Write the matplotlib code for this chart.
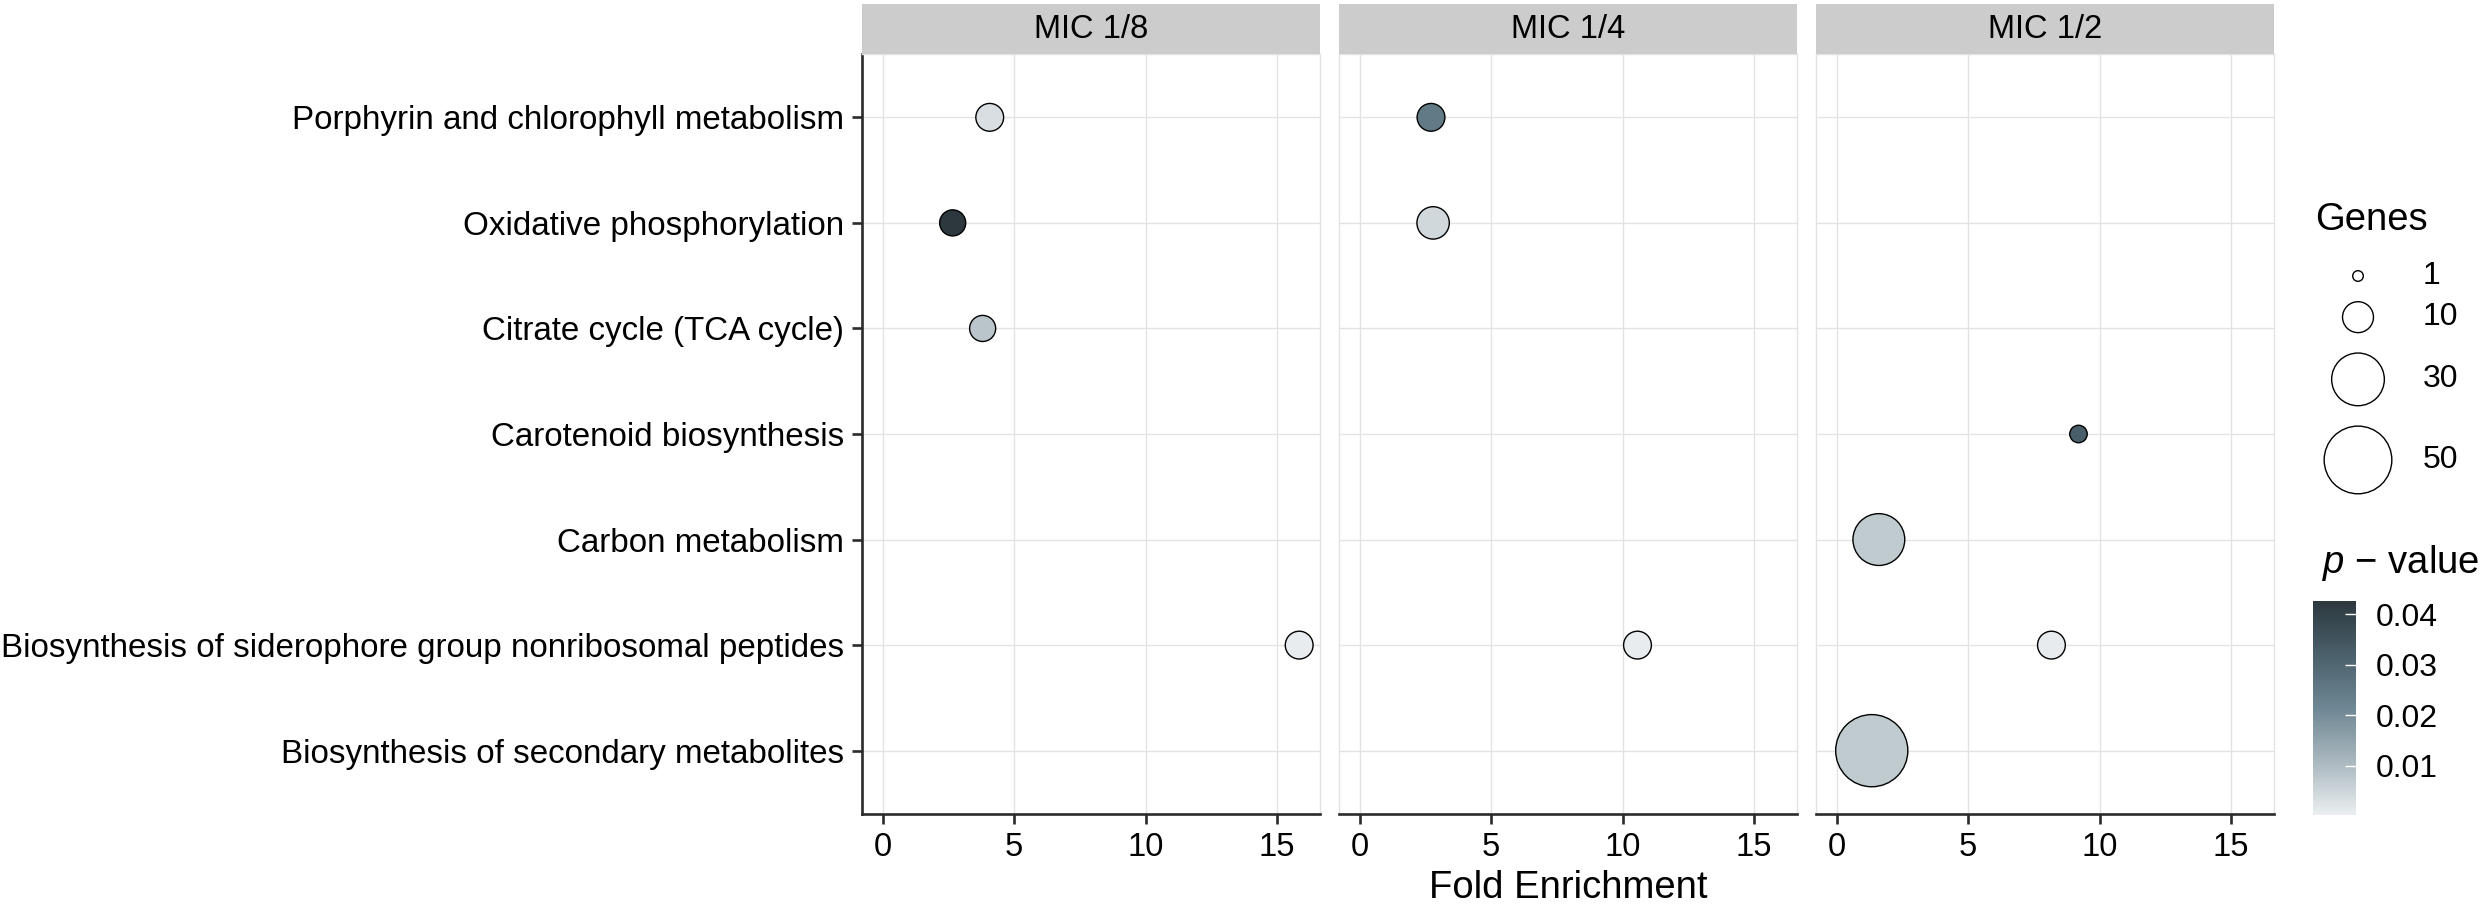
import numpy as np
import matplotlib
matplotlib.use("Agg")
import matplotlib.pyplot as plt
from matplotlib.colors import LinearSegmentedColormap, Normalize
from matplotlib.cm import ScalarMappable

plt.rcParams['font.family'] = ['Liberation Sans', 'DejaVu Sans']
plt.rcParams['mathtext.fontset'] = 'custom'
plt.rcParams['mathtext.it'] = 'Liberation Sans:italic'
plt.rcParams['mathtext.rm'] = 'Liberation Sans'

# pathways, top to bottom
pathways = ['Porphyrin and chlorophyll metabolism',
            'Oxidative phosphorylation',
            'Citrate cycle (TCA cycle)',
            'Carotenoid biosynthesis',
            'Carbon metabolism',
            'Biosynthesis of siderophore group nonribosomal peptides',
            'Biosynthesis of secondary metabolites']
panels = ['MIC 1/8', 'MIC 1/4', 'MIC 1/2']

# MIC 1/8
p1_terms = [0, 1, 2, 5]
p1_fold = [4.07, 2.66, 3.80, 15.85]
p1_genes = [8, 7, 7, 8]
p1_pval = [0.0032, 0.0426, 0.0080, 0.0006]

# MIC 1/4
p2_terms = [0, 1, 5]
p2_fold = [2.71, 2.79, 10.57]
p2_genes = [8, 11, 8]
p2_pval = [0.0250, 0.0045, 0.0006]

# MIC 1/2
p3_terms = [3, 4, 5, 6]
p3_fold = [9.20, 1.60, 8.17, 1.33]
p3_genes = [3, 29, 8, 57]
p3_pval = [0.0325, 0.0070, 0.0008, 0.0070]

size_breaks = [1, 10, 30, 50]
pval_ticks = [0.01, 0.02, 0.03, 0.04]

terms = [p1_terms, p2_terms, p3_terms]
folds = [p1_fold, p2_fold, p3_fold]
genes = [p1_genes, p2_genes, p3_genes]
pvals = [p1_pval, p2_pval, p3_pval]

cmap = LinearSegmentedColormap.from_list(
    'pv', [(0.0, '#EAEEF0'), (0.25, '#A9B7BE'), (0.5, '#6E8794'),
           (0.75, '#4A606B'), (1.0, '#2C383E')])
all_p = np.concatenate(pvals)
norm = Normalize(vmin=0.0002, vmax=all_p.max())

W, H = 2481, 906
fig = plt.figure(figsize=(W / 100, H / 100), dpi=100)


def box(x0, y0, x1, y1):
    # pixel box (top-left origin) -> figure fraction rect
    return [x0 / W, 1 - y1 / H, (x1 - x0) / W, (y1 - y0) / H]


def marker_area(g):
    d_px = 9.4 * np.sqrt(np.asarray(g, dtype=float)) + 1.2
    return (d_px * 0.72) ** 2


grid_c = '#E3E3E3'
axis_c = '#2B2B2B'
fmax = max(max(f) for f in folds)
xlim = (-0.05 * fmax, fmax * 1.05)

lefts = [862, 1339, 1816]
pw = 458
for i, name in enumerate(panels):
    x0 = lefts[i]
    ax = fig.add_axes(box(x0, 54, x0 + pw, 814))
    ax.set_xlim(*xlim)
    ax.set_ylim(len(pathways) - 0.4, -0.6)
    ax.set_xticks([0, 5, 10, 15])
    ax.set_yticks(range(len(pathways)))
    ax.grid(True, color=grid_c, linewidth=1.0)
    ax.set_axisbelow(True)
    ax.scatter(folds[i], terms[i], s=marker_area(genes[i]), c=pvals[i],
               cmap=cmap, norm=norm, edgecolors='black', linewidths=1.0,
               zorder=3)
    for side in ['top', 'right']:
        ax.spines[side].set_color(grid_c)
        ax.spines[side].set_linewidth(1.0)
    ax.spines['bottom'].set_color(axis_c)
    ax.spines['bottom'].set_linewidth(1.9)
    ax.tick_params(axis='x', length=7, width=1.9, color=axis_c,
                   labelsize=23.5, pad=6)
    if i == 0:
        ax.spines['left'].set_color(axis_c)
        ax.spines['left'].set_linewidth(1.9)
        ax.set_yticklabels(pathways)
        ax.tick_params(axis='y', length=7, width=1.9, color=axis_c,
                       labelsize=23.9, pad=6)
    else:
        ax.spines['left'].set_color(grid_c)
        ax.spines['left'].set_linewidth(1.0)
        ax.set_yticklabels([])
        ax.tick_params(axis='y', length=0)

    sax = fig.add_axes(box(x0, 4, x0 + pw, 54))
    sax.set_facecolor('#CCCCCC')
    sax.set_xticks([])
    sax.set_yticks([])
    for sp in sax.spines.values():
        sp.set_visible(False)
    sax.text(0.5, 0.5, name, ha='center', va='center', fontsize=23.5,
             transform=sax.transAxes)

fig.text(1568 / W, 1 - 888 / H, 'Fold Enrichment', ha='center', va='center',
         fontsize=27.5)

# size legend
lax = fig.add_axes([0, 0, 1, 1])
lax.set_xlim(0, W)
lax.set_ylim(H, 0)
lax.axis('off')
lax.text(2315, 220, 'Genes', ha='left', va='center', fontsize=27.5)
diam = 9.4 * np.sqrt(np.array(size_breaks, dtype=float)) + 2.6
ys = [276.0]
for k in range(1, len(size_breaks)):
    ys.append(ys[-1] + (diam[k - 1] + diam[k]) / 2 + 19)
lax.scatter([2358] * len(size_breaks), ys, s=marker_area(size_breaks),
            facecolors='white', edgecolors='black', linewidths=1.0)
for v, y in zip(size_breaks, ys):
    lax.text(2423, y, str(v), ha='left', va='center', fontsize=23)

# colour bar
lax.text(2322, 563, r'$p$ − value', ha='left', va='center', fontsize=27.5)
cax = fig.add_axes(box(2313, 601, 2356, 815))
cb = fig.colorbar(ScalarMappable(norm=norm, cmap=cmap), cax=cax,
                  ticks=pval_ticks)
cb.outline.set_visible(False)
cb.ax.set_yticklabels([f'{t:.2f}' for t in pval_ticks])
cax.tick_params(length=8, width=1, color='white', direction='in',
                labelsize=23, pad=14)

fig.savefig('out.png', dpi=100)
